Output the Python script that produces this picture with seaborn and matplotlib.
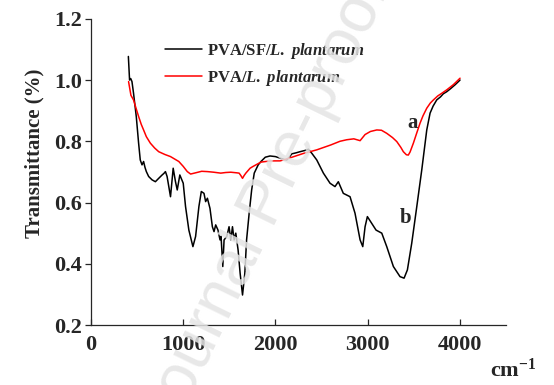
import numpy as np
import pandas as pd
import matplotlib
matplotlib.use("Agg")
import matplotlib.pyplot as plt
import seaborn as sns

# ---- data ----
wn_sf = [405, 418, 430, 444, 461, 491, 516, 534, 553, 570, 585, 600, 625, 662, 698, 734, 771, 790,
         807, 825, 862, 891, 916, 935, 963, 1000, 1025, 1061, 1105, 1134, 1170, 1196, 1225, 1243,
         1262, 1290, 1316, 1334, 1352, 1377, 1399, 1410, 1429, 1443, 1472, 1497, 1516, 1534, 1552,
         1570, 1595, 1617, 1643, 1668, 1687, 1715, 1742, 1770, 1813, 1843, 1890, 1941, 2000, 2050,
         2100, 2123, 2150, 2177, 2220, 2267, 2320, 2357, 2394, 2448, 2520, 2592, 2646, 2682, 2736,
         2809, 2863, 2918, 2947, 2972, 2997, 3044, 3091, 3153, 3207, 3279, 3351, 3395, 3431, 3478,
         3533, 3587, 3641, 3677, 3710, 3749, 3790, 3820, 3858, 3900, 3950, 4002]
t_sf = [1.077, 1.0, 1.005, 0.995, 0.957, 0.88, 0.794, 0.739, 0.723, 0.734, 0.715, 0.701, 0.685,
        0.674, 0.668, 0.679, 0.69, 0.695, 0.701, 0.685, 0.619, 0.712, 0.668, 0.641, 0.69, 0.663,
        0.587, 0.51, 0.456, 0.489, 0.587, 0.636, 0.630, 0.603, 0.614, 0.581, 0.521, 0.505, 0.527,
        0.51, 0.478, 0.49, 0.391, 0.478, 0.489, 0.521, 0.478, 0.521, 0.478, 0.5, 0.445, 0.369,
        0.298, 0.369, 0.478, 0.565, 0.641, 0.696, 0.723, 0.734, 0.748, 0.752, 0.750, 0.745, 0.740,
        0.739, 0.748, 0.759, 0.762, 0.766, 0.770, 0.774, 0.761, 0.739, 0.696, 0.663, 0.652, 0.668,
        0.630, 0.619, 0.565, 0.478, 0.456, 0.521, 0.554, 0.532, 0.510, 0.5, 0.456, 0.391, 0.358,
        0.353, 0.38, 0.467, 0.587, 0.707, 0.837, 0.892, 0.915, 0.935, 0.945, 0.955, 0.962, 0.972,
        0.985, 1.0]

wn_pva = [407, 433, 461, 491, 516, 545, 570, 600, 643, 690, 734, 800, 862, 952, 1000, 1044, 1080,
          1134, 1200, 1262, 1330, 1407, 1460, 1516, 1580, 1606, 1625, 1643, 1660, 1679, 1725, 1752,
          1843, 1950, 2050, 2086, 2200, 2300, 2448, 2600, 2700, 2773, 2850, 2918, 2972, 3030, 3099,
          3150, 3207, 3270, 3316, 3360, 3387, 3420, 3441, 3460, 3496, 3530, 3568, 3600, 3641, 3680,
          3713, 3760, 3810, 3858, 3930, 4002]
t_pva = [0.995, 0.95, 0.935, 0.905, 0.881, 0.855, 0.837, 0.815, 0.794, 0.778, 0.766, 0.757, 0.75,
         0.734, 0.718, 0.701, 0.693, 0.697, 0.702, 0.701, 0.699, 0.696, 0.698, 0.699, 0.697, 0.696,
         0.688, 0.679, 0.688, 0.696, 0.712, 0.717, 0.732, 0.736, 0.736, 0.739, 0.75, 0.76, 0.772,
         0.788, 0.80, 0.805, 0.808, 0.802, 0.822, 0.832, 0.837, 0.836, 0.826, 0.812, 0.799, 0.78,
         0.766, 0.756, 0.755, 0.765, 0.794, 0.825, 0.859, 0.883, 0.908, 0.925, 0.935, 0.948, 0.958,
         0.968, 0.985, 1.006]

label_sf = r"$\mathbf{PVA/SF/}\mathit{L.\ plantarum}$"
label_pva = r"$\mathbf{PVA/}\mathit{L.\ plantarum}$"
xticks = [0, 1000, 2000, 3000, 4000]
yticks = [0.2, 0.4, 0.6, 0.8, 1.0, 1.2]

df = pd.concat([
    pd.DataFrame({"wn": wn_sf, "T": t_sf, "sample": label_sf}),
    pd.DataFrame({"wn": wn_pva, "T": t_pva, "sample": label_pva}),
], ignore_index=True)

sns.set_style("ticks")
plt.rcParams["font.family"] = ["Liberation Serif", "DejaVu Serif"]
plt.rcParams["font.weight"] = "bold"
plt.rcParams["mathtext.fontset"] = "custom"
plt.rcParams["mathtext.rm"] = "Liberation Serif:bold"
plt.rcParams["mathtext.bf"] = "Liberation Serif:bold"
plt.rcParams["mathtext.it"] = "Liberation Serif:italic:bold"

fig = plt.figure(figsize=(5.54, 3.85), dpi=100)
ax = fig.add_axes([0.1643, 0.1558, 0.749, 0.7954])

sns.lineplot(data=df, x="wn", y="T", hue="sample", palette=["black", "red"],
             sort=False, estimator=None, linewidth=1.1, ax=ax)

ax.set_xlim(0, 4500)
ax.set_ylim(0.2, 1.2)
ax.set_xticks(xticks)
ax.set_yticks(yticks)
ax.set_xticklabels([str(v) for v in xticks])
ax.set_yticklabels([f"{v:.1f}" for v in yticks])
for s in ["top", "right"]:
    ax.spines[s].set_visible(False)
for s in ["left", "bottom"]:
    ax.spines[s].set_linewidth(0.9)
ax.tick_params(axis="x", direction="in", length=4, width=0.9, pad=7, labelsize=16)
ax.tick_params(axis="y", direction="out", length=4, width=0.9, pad=2.5, labelsize=16)
for lab in ax.get_xticklabels() + ax.get_yticklabels():
    lab.set_fontweight("bold")

ax.set_xlabel("")
ax.set_ylabel("Transmittance (%)", fontsize=15, fontweight="bold")
ax.yaxis.set_label_coords(-0.112, 0.56)

leg = ax.legend(loc="upper left", bbox_to_anchor=(0.178, 0.928), frameon=False,
                fontsize=12, handlelength=2.2, handletextpad=0.3, labelspacing=0.4,
                borderpad=0, borderaxespad=0)

ax.text(3482, 0.86, "a", fontsize=15, fontweight="bold", ha="center", va="center")
ax.text(3406, 0.55, "b", fontsize=15, fontweight="bold", ha="center", va="center")

fig.text(0.885, 0.02, r"$\mathbf{cm^{-1}}$", fontsize=16, ha="left", va="baseline")

# faint watermark lying over the plot, as in the reference
fig.text(0.48, 0.47, "Journal Pre-proof", fontsize=46, color="#e4e4e4", alpha=0.85,
         rotation=64, ha="center", va="center", fontweight="normal",
         family="Liberation Sans", zorder=5)

fig.savefig("out.png", dpi=100)
